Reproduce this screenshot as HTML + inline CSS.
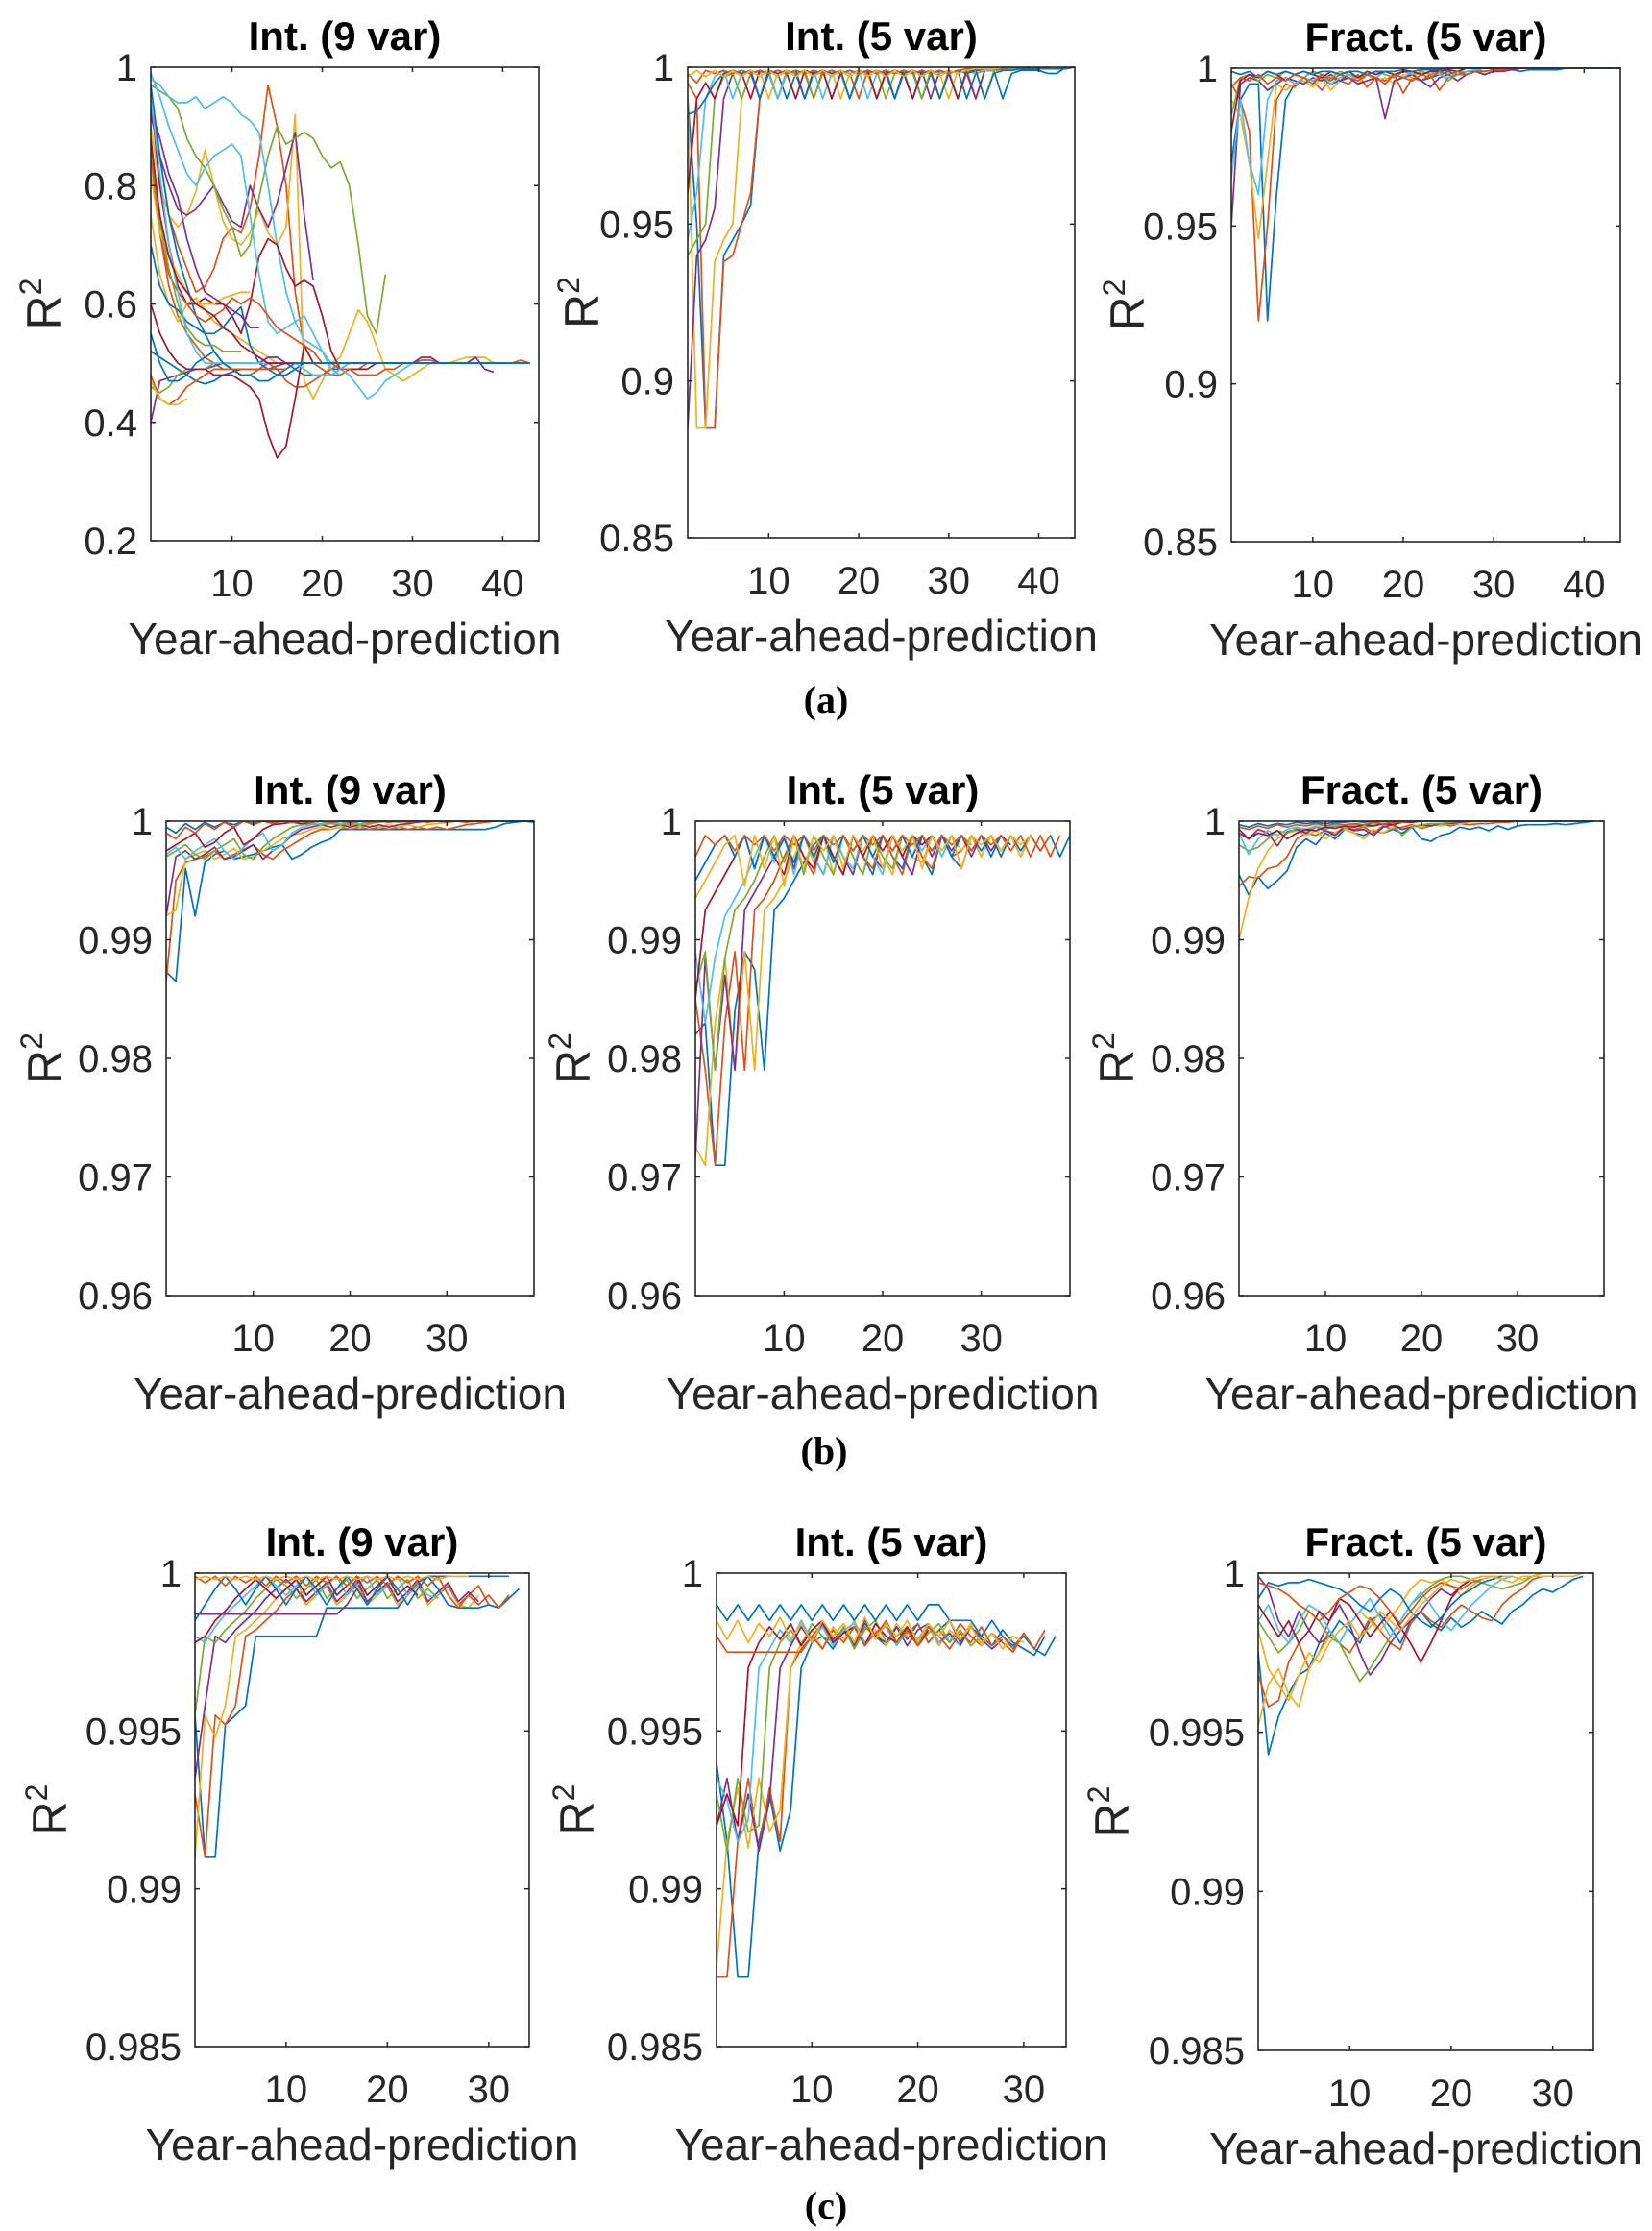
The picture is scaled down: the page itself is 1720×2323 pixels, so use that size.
<!DOCTYPE html>
<html><head><meta charset="utf-8">
<style>
html,body{margin:0;padding:0;background:#fff;}
svg{display:block;font-family:"Liberation Sans",Arial,sans-serif;}
</style></head>
<body>
<svg id="fig" width="1720" height="2323" viewBox="0 0 1720 2323">
<text x="860" y="742" text-anchor="middle" font-family="Liberation Serif,serif" font-weight="bold" font-size="40">(a)</text>
<text x="858" y="1524" text-anchor="middle" font-family="Liberation Serif,serif" font-weight="bold" font-size="40">(b)</text>
<text x="860" y="2310" text-anchor="middle" font-family="Liberation Serif,serif" font-weight="bold" font-size="40">(c)</text>
</svg>
<script>
const colors = ["#0072BD","#D95319","#EDB120","#7E2F8E","#77AC30","#4DBEEE","#A2142F"];
const titles = ["Int. (9 var)","Int. (5 var)","Fract. (5 var)","Int. (9 var)","Int. (5 var)","Fract. (5 var)","Int. (9 var)","Int. (5 var)","Fract. (5 var)"];
const yTicksA1 = [0.2,0.4,0.6,0.8,1];
const yLabelsA1 = ["0.2","0.4","0.6","0.8","1"];
const yTicksA = [0.85,0.9,0.95,1];
const yLabelsA = ["0.85","0.9","0.95","1"];
const yTicksB = [0.96,0.97,0.98,0.99,1];
const yLabelsB = ["0.96","0.97","0.98","0.99","1"];
const yTicksC = [0.985,0.99,0.995,1];
const yLabelsC = ["0.985","0.99","0.995","1"];
const xTicksA = [10,20,30,40];
const xTicksBC = [10,20,30];

const a1Series = [
[0.52,0.51,0.50,0.49,0.48,0.47,0.465,0.47,0.48,0.485,0.49,0.49,0.49,0.49,0.495,0.50,0.49,0.48,0.48,0.48,0.49,0.49,0.50,0.50,0.50,0.50,0.50,0.50,0.50,0.50,0.50,0.50,0.50,0.50,0.50,0.50,0.50,0.50,0.50,0.50,0.50,0.50,0.50],
[0.93,0.85,0.75,0.70,0.66,0.62,0.63,0.66,0.71,0.73,0.72,0.76,0.85,0.97,0.90,0.80,0.62,0.53,0.50,0.49,0.48,0.48,0.49,0.49,0.50,0.50,0.50,0.50,0.50,0.50,0.505,0.505,0.50,0.50,0.50,0.50,0.50,0.50,0.50,0.50,0.50,0.505,0.50],
[0.90,0.80,0.75,0.73,0.75,0.79,0.86,0.80,0.74,0.71,0.70,0.72,0.76,0.72,0.70,0.73,0.92,0.47,0.44,0.47,0.50,0.51,0.55,0.59,0.57,0.53,0.49,0.48,0.47,0.48,0.49,0.50,0.50,0.50,0.505,0.51,0.51,0.51,0.50,0.50,0.50,0.50,0.50],
[0.92,0.85,0.80,0.76,0.75,0.76,0.78,0.80,0.77,0.74,0.73,0.80,0.76,0.73,0.77,0.83,0.89,0.75,0.64],
[0.97,0.96,0.95,0.93,0.88,0.85,0.83,0.80,0.76,0.73,0.68,0.70,0.78,0.85,0.90,0.87,0.88,0.89,0.88,0.85,0.83,0.84,0.80,0.70,0.58,0.55,0.65],
[0.98,0.97,0.95,0.94,0.94,0.95,0.93,0.94,0.95,0.94,0.92,0.91,0.89,0.80,0.70,0.62,0.57,0.54,0.53,0.52,0.50,0.49,0.48,0.46,0.44,0.45,0.47,0.48,0.49,0.50,0.50,0.50,0.50,0.50,0.50,0.50,0.50,0.50,0.50,0.50,0.50,0.50,0.50],
[0.95,0.80,0.70,0.63,0.60,0.60,0.61,0.60,0.60,0.58,0.55,0.60,0.68,0.71,0.70,0.66,0.63,0.64,0.63,0.58,0.52,0.49,0.49,0.49,0.49,0.50,0.50,0.50,0.50,0.50],
[0.97,0.85,0.75,0.68,0.63,0.58,0.55,0.52,0.50,0.49,0.49,0.49,0.49,0.50,0.50,0.50,0.50,0.50,0.50,0.50,0.50,0.50,0.50,0.50,0.50,0.50,0.50,0.50,0.50,0.50,0.50,0.50,0.50,0.50,0.50,0.50,0.50,0.50],
[0.85,0.72,0.63,0.58,0.55,0.53,0.51,0.50,0.49,0.49,0.48,0.48,0.49,0.50,0.49,0.47,0.46,0.46,0.47,0.48,0.49,0.50],
[0.75,0.65,0.60,0.57,0.60,0.61,0.59,0.57,0.56,0.55,0.54,0.53,0.52,0.51,0.50,0.50,0.50,0.50,0.50,0.50],
[0.40,0.47,0.475,0.48,0.485,0.49,0.49,0.495,0.50,0.50,0.50,0.50,0.50,0.51,0.51,0.50,0.50,0.50,0.50,0.50,0.50,0.50,0.50,0.50,0.50,0.50,0.50,0.50,0.50,0.50,0.51,0.51,0.50,0.50,0.50,0.50,0.51,0.49,0.485],
[0.46,0.45,0.46,0.48,0.49,0.49,0.49,0.50,0.50,0.50,0.50],
[0.99,0.95,0.90,0.86,0.82,0.80,0.83,0.85,0.86,0.87,0.85,0.75,0.65,0.57,0.55,0.56,0.57,0.58,0.55,0.52,0.49,0.48],
[0.60,0.55,0.52,0.50,0.49,0.49,0.49,0.48,0.48,0.48,0.47,0.46,0.44,0.38,0.34,0.36,0.44,0.53,0.50,0.50],
[0.70,0.63,0.60,0.59,0.57,0.56,0.55,0.55,0.56,0.58,0.595,0.53,0.50,0.49,0.48,0.48,0.49,0.50,0.50,0.50],
[0.88,0.72,0.65,0.62,0.60,0.58,0.57,0.58,0.59,0.61,0.60,0.61,0.60,0.58,0.56,0.55,0.54,0.53,0.52,0.50,0.50,0.49,0.49,0.48,0.48,0.48,0.49,0.49,0.50,0.50,0.50,0.50,0.50,0.50,0.50,0.50,0.50,0.50,0.50,0.50,0.50],
[0.82,0.72,0.68,0.65,0.62,0.60,0.60,0.60,0.61,0.615,0.62,0.62],
[0.93,0.88,0.82,0.78,0.71,0.66,0.62,0.61,0.60,0.59,0.58,0.56,0.56],
[0.87,0.74,0.66,0.60,0.56,0.54,0.53,0.53,0.52,0.52,0.52],
[0.95,0.82,0.70,0.62,0.55,0.52,0.50,0.50,0.50,0.50,0.50,0.50,0.50,0.50,0.50,0.50,0.50,0.49,0.48,0.48,0.48,0.49,0.50],
[0.88,0.75,0.68,0.64,0.62,0.60,0.59,0.58,0.56,0.55,0.53,0.52,0.51,0.50,0.50,0.50,0.50,0.50,0.50,0.50,0.50,0.50,0.50,0.50,0.50,0.50,0.50,0.50,0.50,0.50,0.50,0.50,0.50,0.50,0.50,0.50,0.50,0.50,0.50,0.50,0.50,0.50,0.50],
[0.55,0.50,0.47,0.47,0.48,0.50,0.51,0.52,0.50,0.49,0.48,0.48,0.47,0.47,0.48,0.49,0.50,0.50,0.50,0.50,0.50,0.50,0.50,0.50,0.50,0.50,0.50,0.50,0.50,0.50,0.50,0.50,0.50,0.50,0.50,0.50,0.50,0.50,0.50,0.50,0.50,0.50,0.50],
[0.48,0.44,0.43,0.44,0.46,0.47,0.48,0.49,0.49,0.49,0.49,0.49,0.49,0.49,0.49,0.49],
[0.47,0.44,0.43,0.43,0.44]
];
const a2Series = [
[0.99,0.95,0.885,0.885,0.94,0.945,0.95,0.956,0.99,0.999,0.998,0.990,0.998,0.999,0.998,0.999,0.990,0.998,0.999,0.998,0.999,0.990,0.998,0.999,0.998,0.999,0.990,0.998,0.999,0.998,0.999,0.990,0.998,0.999,0.999,0.990,0.998,0.999,0.999,0.999,0.998,0.998,1.0],
[0.995,0.99,0.885,0.885,0.938,0.94,0.95,0.96,0.99,0.998,0.990,0.998,0.999,0.998,0.990,0.999,0.998,0.999,0.998,0.990,0.999,0.998,0.999,0.990,0.999,0.998,0.999,0.998,0.990,0.999,0.998,0.999,0.990,0.999,0.999,0.999,0.9995,0.9995,0.9995,0.9995,1.0],
[0.99,0.885,0.885,0.938,0.945,0.95,0.99,0.998,0.999,0.990,0.998,0.999,0.998,0.990,0.999,0.998,0.999,0.990,0.998,0.999,0.998,0.990,0.999,0.998,0.999,0.990,0.998,0.999,0.998,0.990,0.999,0.998,0.999,0.990,0.999,0.999,0.9995,0.9995,1.0],
[0.885,0.94,0.945,0.955,0.99,0.998,0.999,0.998,0.990,0.999,0.998,0.999,0.998,0.990,0.999,0.998,0.999,0.998,0.990,0.999,0.998,0.999,0.998,0.990,0.999,0.998,0.999,0.990,0.999,0.998,0.999,0.998,0.990,0.999,0.999,0.9995,0.9995,0.9995,1.0],
[0.94,0.945,0.95,0.99,0.997,0.998,0.990,0.998,0.999,0.998,0.990,0.999,0.998,0.999,0.990,0.998,0.999,0.998,0.990,0.999,0.998,0.999,0.990,0.998,0.999,0.998,0.990,0.999,0.998,0.999,0.990,0.999,0.998,0.999,0.999,0.9995,0.9995,1.0],
[0.945,0.96,0.99,0.997,0.999,0.990,0.998,0.999,0.998,0.999,0.990,0.998,0.999,0.998,0.999,0.990,0.998,0.999,0.998,0.999,0.990,0.998,0.999,0.998,0.999,0.990,0.998,0.999,0.998,0.999,0.990,0.998,0.999,0.999,0.9995,0.9995,1.0],
[0.96,0.99,0.995,0.990,0.998,0.999,0.998,0.990,0.999,0.998,0.999,0.998,0.990,0.999,0.998,0.999,0.990,0.998,0.999,0.998,0.999,0.990,0.998,0.999,0.998,0.990,0.999,0.998,0.999,0.998,0.990,0.999,0.999,0.9995,0.9995,1.0],
[0.985,0.986,0.99,0.995,0.998,0.999,0.998,0.999,0.990,0.998,0.999,0.998,0.999,0.990,0.998,0.999,0.998,0.999,0.990,0.998,0.999,0.998,0.999,0.990,0.998,0.999,0.998,0.999,0.990,0.998,0.999,0.998,0.999,0.990,0.998,0.999,0.999,0.9995,0.9995,0.9995,0.9995,0.9995,0.9995,1.0],
[0.998,0.995,0.999,0.998,0.999,0.998,0.999,0.998,0.999,0.998,0.999,0.998,0.999,0.998,0.999,0.998,0.999,0.998,0.999,0.998,0.999,0.998,0.999,0.998,0.999,0.998,0.999,0.998,0.999,0.998,0.999,0.9995,0.9995,0.9995,0.9995,0.9995,1.0],
[0.997,0.999,0.997,0.999,0.997,0.999,0.997,0.999,0.997,0.999,0.997,0.999,0.997,0.999,0.997,0.999,0.997,0.999,0.997,0.999,0.997,0.999,0.997,0.999,0.997,0.999,0.997,0.999,0.997,0.999,0.998,0.999,0.9995,0.9995,0.9995,1.0]
];
const a3Series = [
[0.97,0.99,0.995,0.995,0.92,0.96,0.99,0.995,0.997,0.996,0.997,0.995,0.996,0.998,0.997,0.998,0.997,0.996,0.998,0.997,0.998,0.996,0.997,0.998,0.999,0.998,0.999,0.999,0.998,0.999,0.999,0.9995,0.999,0.9995,0.9995,0.9995,0.9995,1.0,1.0,1.0,1.0,1.0,1.0],
[0.995,0.99,0.98,0.92,0.95,0.99,0.995,0.994,0.997,0.996,0.993,0.997,0.996,0.995,0.998,0.994,0.997,0.996,0.998,0.992,0.997,0.996,0.998,0.993,0.997,0.998,0.998,0.999,0.999,0.9995,0.9995,0.9995,1.0,1.0,1.0,1.0,1.0,1.0],
[0.99,0.985,0.97,0.946,0.97,0.995,0.993,0.995,0.996,0.994,0.997,0.993,0.996,0.997,0.995,0.998,0.996,0.997,0.995,0.998,0.997,0.999,0.998,0.999,0.9995,0.999,1.0,1.0,1.0,1.0,1.0,1.0,1.0,1.0,1.0,1.0,1.0,1.0,1.0,1.0,1.0],
[0.95,0.995,0.997,0.996,0.993,0.995,0.997,0.996,0.995,0.997,0.996,0.998,0.996,0.997,0.995,0.996,0.997,0.984,0.996,0.997,0.998,0.996,0.994,0.997,0.998,0.996,0.998,0.999,0.998,0.999,0.999,0.9995,1.0,1.0,1.0,1.0,1.0,1.0,1.0],
[0.985,0.997,0.998,0.996,0.998,0.997,0.999,0.998,0.997,0.999,0.998,0.997,0.999,0.998,0.997,0.998,0.999,0.998,0.997,0.999,0.998,0.999,0.998,0.999,0.996,0.998,0.999,0.9995,0.999,0.9995,1.0,1.0,1.0,1.0,1.0,1.0,1.0,1.0],
[0.965,0.99,0.97,0.96,0.99,0.996,0.997,0.995,0.997,0.996,0.998,0.995,0.997,0.998,0.996,0.998,0.997,0.999,0.998,0.997,0.999,0.998,0.999,0.998,0.997,0.999,0.999,0.9995,1.0,1.0,1.0,1.0,1.0,1.0,1.0,1.0,1.0],
[0.98,0.996,0.998,0.997,0.999,0.998,0.996,0.998,0.999,0.998,0.997,0.999,0.998,0.999,0.997,0.999,0.998,0.999,0.998,0.999,0.999,0.998,0.999,0.999,0.9995,0.999,1.0,1.0,1.0,1.0,1.0,1.0,1.0,1.0,1.0,1.0,1.0],
[0.999,0.998,0.999,0.997,0.999,0.998,0.999,0.998,0.999,0.998,0.999,0.999,0.998,0.999,0.999,0.998,0.999,0.999,0.999,0.9995,0.999,0.9995,0.9995,0.9995,1.0,1.0,1.0,1.0,1.0,1.0,1.0,1.0,1.0,1.0,1.0,1.0,1.0,1.0,1.0,1.0,1.0,1.0,1.0,1.0],
[0.994,0.997,0.996,0.998,0.995,0.997,0.996,0.998,0.997,0.995,0.998,0.996,0.998,0.997,0.996,0.998,0.997,0.995,0.998,0.997,0.996,0.998,0.997,0.999,0.998,0.999,0.998,0.999,0.999,0.9995,1.0,1.0,1.0,1.0,1.0,1.0,1.0,1.0,1.0,1.0]
];
const b1Series = [
[0.9873,0.9865,0.996,0.992,0.9965,0.9972,0.9975,0.9968,0.997,0.9972,0.9975,0.9978,0.998,0.9968,0.9972,0.9978,0.9982,0.9985,0.9993,0.9993,0.9993,0.9993,0.9993,0.9993,0.9993,0.9993,0.9993,0.9993,0.9993,0.9993,0.9993,0.9993,0.9993,0.9993,0.9995,0.9998,0.9999,1.0,0.9999],
[0.9865,0.995,0.9965,0.9968,0.997,0.9975,0.9968,0.9972,0.9976,0.998,0.9972,0.9968,0.9975,0.998,0.9985,0.999,0.9993,0.9993,0.9995,0.9993,0.9995,0.9993,0.9995,0.9993,0.9995,0.9993,0.9995,0.9993,0.9995,0.9993,0.9995,0.9997,0.9998,0.9999,1.0],
[0.992,0.9925,0.9968,0.9972,0.9975,0.9968,0.9972,0.9977,0.9968,0.997,0.9975,0.998,0.9985,0.9988,0.999,0.9993,0.9995,0.9993,0.9995,0.9997,0.9995,0.9997,0.9995,0.9997,0.9995,0.9997,0.9995,0.9997,0.9998,0.9999,1.0],
[0.992,0.997,0.9975,0.9968,0.9972,0.9978,0.9968,0.997,0.9975,0.998,0.9968,0.9975,0.998,0.9988,0.9993,0.9995,0.9997,0.9995,0.9997,0.9995,0.9997,0.9995,0.9997,0.9995,0.9997,0.9998,0.9999,1.0],
[0.997,0.9975,0.998,0.9972,0.9968,0.9975,0.998,0.9985,0.9972,0.9968,0.9978,0.9985,0.999,0.9995,0.9997,0.9998,0.9997,0.9998,0.9997,0.9998,0.9997,0.9998,0.9999,1.0,0.9999,1.0],
[0.9972,0.9978,0.9968,0.9975,0.998,0.9985,0.9975,0.9968,0.9978,0.9985,0.999,0.9975,0.998,0.999,0.9995,0.9997,0.9998,0.9999,0.9998,0.9999,0.9998,0.9999,1.0,0.9999,1.0],
[0.9975,0.998,0.9985,0.999,0.9978,0.9982,0.999,0.9995,0.998,0.9985,0.9993,0.9997,0.9998,0.9999,0.9998,0.9999,1.0,0.9999,1.0,0.9999,1.0],
[0.9995,0.999,0.9998,0.9993,0.9999,0.9995,0.9999,0.9997,1.0,0.9998,1.0,0.9999,1.0,0.9999,1.0,0.9999,1.0,0.9999,1.0,1.0,1.0,1.0,1.0,1.0,1.0,1.0,1.0,1.0,1.0,1.0,1.0,1.0,1.0,1.0,1.0,1.0,1.0,1.0,1.0],
[0.999,0.9985,0.9995,0.999,0.9998,0.9993,0.9999,0.9995,1.0,0.9997,1.0,0.9998,1.0,0.9999,1.0,0.9999,1.0,0.9999,1.0,0.9999,1.0,0.9999,1.0,0.9999,1.0,0.9999,1.0,0.9999,1.0,0.9999,1.0,0.9999,1.0,1.0]
];
const b2Series = [
[0.982,0.983,0.971,0.971,0.984,0.989,0.9875,0.979,0.9925,0.9935,0.995,0.9965,0.998,0.9988,0.997,0.9955,0.9988,0.997,0.9955,0.9988,0.997,0.996,0.9988,0.997,0.9955,0.9988,0.997,0.996,0.9988,0.9975,0.9988,0.997,0.9988,0.9975,0.9988,0.9975,0.9988,0.997,0.9988],
[0.985,0.979,0.971,0.983,0.989,0.979,0.9925,0.9935,0.995,0.997,0.9988,0.997,0.9955,0.9988,0.997,0.9955,0.9988,0.997,0.996,0.9988,0.997,0.9955,0.9988,0.997,0.996,0.9988,0.997,0.9975,0.9988,0.997,0.9988,0.9975,0.9988,0.997,0.9988,0.9975,0.9988],
[0.9725,0.971,0.983,0.9885,0.979,0.989,0.979,0.9925,0.9935,0.995,0.997,0.9988,0.9965,0.9988,0.9955,0.9988,0.997,0.9955,0.9988,0.997,0.9955,0.9988,0.997,0.9965,0.9988,0.997,0.9988,0.9975,0.9988,0.997,0.9988,0.9975,0.9988,0.997,0.9988],
[0.9715,0.9885,0.979,0.987,0.979,0.9925,0.994,0.9955,0.997,0.9988,0.996,0.9988,0.997,0.9955,0.9988,0.997,0.9955,0.9988,0.997,0.996,0.9988,0.997,0.9955,0.9988,0.997,0.9988,0.9975,0.9988,0.997,0.9988,0.9975,0.9988,0.998],
[0.986,0.989,0.979,0.9885,0.9925,0.9935,0.995,0.997,0.9988,0.9965,0.9988,0.9955,0.9988,0.997,0.9955,0.9988,0.997,0.9955,0.9988,0.997,0.996,0.9988,0.997,0.9988,0.9975,0.9988,0.997,0.9988,0.998],
[0.989,0.983,0.9885,0.992,0.9935,0.995,0.997,0.9988,0.9965,0.9988,0.9955,0.9988,0.997,0.9955,0.9988,0.997,0.996,0.9988,0.997,0.9955,0.9988,0.997,0.9988,0.9975,0.9988,0.997,0.9988],
[0.985,0.9925,0.994,0.9955,0.997,0.9988,0.996,0.9988,0.997,0.9955,0.9988,0.997,0.996,0.9988,0.997,0.9955,0.9988,0.997,0.9988,0.9975,0.9988,0.997,0.9988,0.998,0.9988],
[0.995,0.9965,0.998,0.9988,0.997,0.9988,0.996,0.9988,0.997,0.9985,0.9965,0.9988,0.997,0.9988,0.9965,0.9988,0.9975,0.9988,0.997,0.9988,0.9975,0.9988,0.997,0.9988,0.9975,0.9988,0.997,0.9988,0.9975,0.9988,0.997,0.9988],
[0.997,0.9988,0.998,0.9988,0.9975,0.9988,0.998,0.9988,0.9975,0.9988,0.998,0.9988,0.9975,0.9988,0.998,0.9988,0.9975,0.9988,0.998,0.9988,0.9975,0.9988,0.998,0.9988,0.9975,0.9988,0.998,0.9988,0.9975,0.9988,0.998,0.9988,0.9975,0.9988,0.997,0.9988,0.997,0.9988],
[0.9935,0.995,0.9965,0.998,0.9988,0.9945,0.9988,0.996,0.9988,0.9945,0.9988,0.996,0.9988,0.9975,0.9988,0.996,0.9988,0.9975,0.9988,0.996,0.9988,0.9975,0.9988,0.996,0.9988,0.9975,0.9988,0.996,0.9988,0.998,0.9988,0.9975,0.9988,0.998,0.9988]
];
const b3Series = [
[0.9955,0.9938,0.9953,0.9943,0.995,0.9958,0.9978,0.9985,0.998,0.999,0.9985,0.9993,0.999,0.9988,0.9992,0.999,0.9993,0.999,0.9995,0.9985,0.9983,0.9988,0.999,0.9995,0.9993,0.9995,0.9992,0.9996,0.9993,0.9996,0.9997,0.9997,0.9997,0.9998,0.9997,0.9998,0.9999,1.0],
[0.9945,0.9953,0.9952,0.996,0.9962,0.997,0.9985,0.999,0.9988,0.9992,0.999,0.9995,0.9993,0.9995,0.999,0.9996,0.9993,0.9995,0.9997,0.9994,0.9996,0.9998,0.9996,0.9998,0.9997,0.9998,0.9998,0.9999,0.9999,1.0],
[0.990,0.9935,0.996,0.9975,0.9985,0.999,0.9992,0.9988,0.9992,0.9985,0.999,0.9993,0.999,0.9985,0.9993,0.999,0.9995,0.9993,0.9996,0.9995,0.9997,0.9996,0.9998,0.9998,0.9999,1.0],
[0.999,0.9985,0.9993,0.999,0.9979,0.9991,0.9993,0.999,0.9995,0.9992,0.9988,0.9995,0.9992,0.9993,0.9988,0.9995,0.9997,0.9993,0.9995,0.9997,0.9996,0.9998,0.9998,0.9999,1.0],
[0.998,0.9975,0.9978,0.9985,0.9992,0.999,0.9994,0.9992,0.9995,0.9993,0.9996,0.9994,0.9997,0.9995,0.9996,0.9998,0.9997,0.9988,0.9995,0.9997,0.9998,0.9998,0.9999,1.0],
[0.999,0.9972,0.9985,0.9992,0.9988,0.9993,0.9995,0.9993,0.9996,0.9994,0.9997,0.9995,0.9996,0.9997,0.9998,0.9997,0.9998,0.9999,0.9999,1.0],
[0.9993,0.9985,0.999,0.9988,0.9992,0.9985,0.999,0.9993,0.9992,0.9995,0.9994,0.9996,0.9995,0.9997,0.9996,0.9998,0.9997,0.9999,0.9999,1.0],
[0.9997,0.9995,0.9998,0.9996,0.9998,0.9997,0.9999,0.9998,0.9999,0.9998,0.9999,0.9999,1.0,0.9999,1.0,1.0,1.0,1.0,1.0,1.0,1.0,1.0,1.0,1.0,1.0,1.0,1.0,1.0,1.0,1.0,1.0,1.0,1.0,1.0,1.0,1.0,1.0,1.0],
[0.9995,0.9993,0.9996,0.9994,0.9997,0.9995,0.9997,0.9996,0.9998,0.9996,0.9998,0.9997,0.9998,0.9997,0.9999,0.9998,0.9999,0.9999,1.0]
];
const c1Series = [
[0.9955,0.991,0.991,0.9952,0.9955,0.9958,0.998,0.998,0.998,0.998,0.998,0.998,0.998,0.9989,0.9989,0.9989,0.9989,0.9989,0.9989,0.9989,0.9989,0.9993,0.9997,0.9999,0.9999,0.9999,0.9999,0.9999,0.9999,0.9999,0.9999,0.9999],
[0.993,0.991,0.9955,0.9952,0.9958,0.998,0.9982,0.9985,0.9988,0.9992,0.9995,0.999,0.9993,0.9996,0.999,0.9993,0.9997,0.999,0.9993,0.9996,0.999,0.9993,0.9997,0.999,0.9993,0.9996,0.999,0.9993,0.9996,0.999,0.9989,0.9993],
[0.991,0.9955,0.9948,0.9958,0.998,0.9982,0.9985,0.9988,0.9992,0.9995,0.9998,0.999,0.9993,0.9997,0.999,0.9993,0.9996,0.999,0.9993,0.9997,0.999,0.9993,0.9996,0.999,0.9993,0.9997,0.999,0.9989,0.9993],
[0.9935,0.9958,0.998,0.9978,0.9982,0.9985,0.9988,0.9992,0.9995,0.9998,0.9995,0.9991,0.9994,0.9997,0.9991,0.9994,0.9998,0.9991,0.9994,0.9997,0.9991,0.9994,0.9998,0.9991,0.9994,0.9997,0.9991,0.9994,0.9991],
[0.9955,0.998,0.9978,0.9982,0.9985,0.9988,0.9992,0.9995,0.9998,0.9996,0.9992,0.9995,0.9998,0.9992,0.9995,0.9998,0.9992,0.9995,0.9998,0.9992,0.9995,0.9998,0.9992,0.9995,0.9992],
[0.998,0.9978,0.9983,0.9987,0.999,0.9993,0.9996,0.9999,0.9996,0.9993,0.9996,0.9999,0.9993,0.9996,0.9999,0.9993,0.9996,0.9999,0.9993,0.9996,0.9999,0.9993,0.9996,0.9993,0.9992],
[0.9978,0.998,0.9985,0.9988,0.9992,0.9995,0.9998,0.9995,0.9992,0.9995,0.9998,0.9993,0.9996,0.9999,0.9993,0.9996,0.9999,0.9993,0.9996,0.9999,0.9993,0.9996,0.9993],
[0.9985,0.999,0.9995,0.9999,0.9995,0.999,0.9995,0.9999,0.9995,0.999,0.9995,0.9999,0.9995,0.999,0.9995,0.9999,0.9995,0.999,0.9995,0.9999,0.9995,0.999,0.9995,0.9999,0.9995,0.999,0.9989,0.9989,0.9989,0.999,0.9989,0.9992,0.9995],
[0.9999,0.9997,0.9999,0.9996,0.9999,0.9997,0.9999,0.9996,0.9999,0.9997,0.9999,0.9996,0.9999,0.9997,0.9999,0.9996,0.9999,0.9997,0.9999,0.9996,0.9999,0.9997,0.9999,0.9996,0.9999,0.9993,0.9989,0.9993,0.999,0.9993,0.9989,0.9993],
[0.9998,0.9999,0.9998,0.9999,0.9998,0.9999,0.9998,0.9999,0.9998,0.9999,0.9998,0.9999,0.9998,0.9999,0.9998,0.9999,0.9998,0.9999,0.9998,0.9999,0.9998,0.9999,0.9998,0.9999,0.9998,0.9999,0.9999,0.9999],
[0.9987,0.9987,0.9987,0.9987,0.9987,0.9987,0.9987,0.9987,0.9987,0.9987,0.9987,0.9987,0.9987,0.9987,0.9987,0.999,0.9995]
];
const c2Series = [
[0.994,0.9915,0.9872,0.9872,0.9915,0.993,0.9912,0.9925,0.997,0.9978,0.998,0.9976,0.9982,0.9978,0.9984,0.998,0.9977,0.9983,0.9979,0.9984,0.9978,0.9982,0.9985,0.9978,0.9983,0.998,0.9977,0.9982,0.9978,0.9976,0.9974,0.998],
[0.9872,0.9872,0.9915,0.9935,0.9912,0.9932,0.9915,0.997,0.9976,0.998,0.9984,0.9978,0.9982,0.9977,0.9983,0.998,0.9985,0.9978,0.9981,0.9984,0.9978,0.9982,0.9978,0.9984,0.998,0.9977,0.9981,0.9978,0.9975,0.9981],
[0.9875,0.9915,0.9932,0.9913,0.9935,0.9918,0.9925,0.997,0.9978,0.9982,0.9976,0.9983,0.9979,0.9985,0.9978,0.9982,0.9977,0.9984,0.998,0.9978,0.9983,0.9977,0.9982,0.9979,0.9984,0.9977,0.9981,0.9976,0.998],
[0.992,0.9935,0.9915,0.993,0.9912,0.9928,0.997,0.9977,0.9983,0.9978,0.9984,0.9979,0.9982,0.9977,0.9985,0.998,0.9978,0.9983,0.9977,0.9982,0.9984,0.9978,0.9981,0.9977,0.9983,0.9979,0.9976,0.9979],
[0.993,0.9912,0.9935,0.9918,0.992,0.997,0.9978,0.9982,0.9977,0.9984,0.998,0.9978,0.9983,0.9976,0.9982,0.9985,0.9978,0.998,0.9983,0.9977,0.9981,0.9984,0.9978,0.9982,0.9977,0.998],
[0.9935,0.9928,0.9915,0.9922,0.997,0.9976,0.9982,0.9978,0.9985,0.9979,0.9983,0.9977,0.9982,0.9984,0.9978,0.9981,0.9983,0.9977,0.9982,0.9979,0.9984,0.9978,0.998,0.9977],
[0.992,0.993,0.992,0.997,0.9978,0.9983,0.9979,0.9984,0.9977,0.9982,0.9985,0.9978,0.9981,0.9983,0.9977,0.9984,0.998,0.9978,0.9983,0.9977,0.9982],
[0.999,0.9985,0.999,0.9985,0.999,0.9985,0.999,0.9985,0.999,0.9985,0.999,0.9985,0.999,0.9985,0.999,0.9985,0.999,0.9985,0.999,0.9985,0.999,0.999,0.9985,0.9985,0.9985,0.998,0.9985,0.998,0.9977,0.998,0.9976,0.9974,0.998],
[0.998,0.9975,0.9975,0.9975,0.9975,0.9975,0.9975,0.9975,0.9975,0.998,0.9976,0.9982,0.9978,0.9983,0.9977,0.9981,0.9984,0.9978,0.9982,0.9977,0.9983,0.998,0.9976,0.9981,0.9978,0.9983,0.9977,0.998,0.9976,0.9981,0.9976,0.9982],
[0.9985,0.9979,0.9985,0.9978,0.9984,0.998,0.9986,0.9979,0.9984,0.9978,0.9985,0.998,0.9984,0.9978,0.9986,0.9979,0.9984,0.998,0.9985,0.9978,0.9984,0.998,0.9985,0.9979,0.9983,0.9978,0.9981,0.9976,0.998,0.9978]
];
const c3Series = [
[0.9975,0.9943,0.9955,0.9962,0.9968,0.997,0.9978,0.998,0.9985,0.9982,0.9978,0.9985,0.9987,0.9983,0.9978,0.9985,0.9988,0.9984,0.9982,0.9986,0.9983,0.9985,0.9988,0.9986,0.9984,0.9988,0.999,0.9993,0.9995,0.9994,0.9996,0.9998,0.9999],
[0.9968,0.9958,0.996,0.9972,0.9978,0.997,0.9975,0.9982,0.9978,0.9975,0.998,0.9986,0.9982,0.9978,0.9976,0.9984,0.9988,0.9985,0.9983,0.9987,0.999,0.9988,0.9986,0.9985,0.999,0.9993,0.9995,0.9998,0.9999],
[0.9952,0.9965,0.997,0.9962,0.9958,0.997,0.9975,0.998,0.9978,0.9984,0.9988,0.9985,0.9982,0.9986,0.999,0.9995,0.9998,0.9997,0.9998,0.9996,0.9993,0.9996,0.9998,0.9999,0.9999,0.9999,0.9998,0.9999,0.9999,0.9999,0.9999,0.9999,1.0],
[0.9999,0.9995,0.9985,0.998,0.9988,0.9982,0.9978,0.9985,0.999,0.9984,0.9975,0.9968,0.9972,0.9978,0.9982,0.9985,0.9988,0.9992,0.9995,0.9993,0.9996,0.9998,0.9999],
[0.9985,0.998,0.9975,0.9978,0.9982,0.9988,0.9985,0.998,0.9978,0.9972,0.9966,0.997,0.9975,0.998,0.9985,0.999,0.9993,0.9996,0.9998,0.9999,0.9999,0.9998,0.9997,0.9996,0.9995,0.9996,0.9997,0.9999,1.0],
[0.9985,0.999,0.9982,0.9978,0.9985,0.999,0.9988,0.9982,0.9978,0.9984,0.9988,0.9992,0.9986,0.998,0.9985,0.999,0.9994,0.999,0.9985,0.9982,0.9986,0.999,0.9993,0.9996,0.9998,0.9999],
[0.999,0.9985,0.998,0.9985,0.9978,0.9982,0.9988,0.9985,0.9992,0.999,0.9985,0.998,0.9984,0.9988,0.9983,0.9978,0.9972,0.9978,0.9985,0.9992,0.9996,0.9998],
[0.9992,0.9997,0.9996,0.9997,0.9997,0.9998,0.9997,0.9996,0.9995,0.9993,0.999,0.9988,0.9992,0.9995,0.9993,0.9988,0.9985,0.9983,0.9986,0.999,0.9993,0.9995,0.9997,0.9998,0.9999],
[0.9997,0.9996,0.9995,0.9993,0.999,0.9988,0.9985,0.9988,0.9992,0.9994,0.9996,0.9995,0.9992,0.9988,0.9984,0.9988,0.9992,0.9995,0.9997,0.9996,0.9995,0.9997,0.9998],
[0.9982,0.997,0.9965,0.996,0.9968,0.9975,0.9972,0.9978,0.9982,0.9985,0.998,0.9983,0.9988,0.9985,0.9982,0.9986,0.999,0.9993,0.9996,0.9998,0.9997,0.9998,0.9999,0.9999,0.9998,0.9997,0.9999,0.9999,1.0]
];

const layout = [
 {id:"a1",L:157,R:561,T:70,B:563,xl:[1,44],yl:[0.2,1],yt:yTicksA1,ylab:yLabelsA1,xt:xTicksA,s:a1Series,yx:46},
 {id:"a2",L:716,R:1119,T:70,B:560,xl:[1,44],yl:[0.85,1],yt:yTicksA,ylab:yLabelsA,xt:xTicksA,s:a2Series,yx:606},
 {id:"a3",L:1282,R:1687,T:71,B:564,xl:[1,44],yl:[0.85,1],yt:yTicksA,ylab:yLabelsA,xt:xTicksA,s:a3Series,yx:1174},
 {id:"b1",L:173,R:556,T:855,B:1349,xl:[1,39],yl:[0.96,1],yt:yTicksB,ylab:yLabelsB,xt:xTicksBC,s:b1Series,yx:47},
 {id:"b2",L:724,R:1114,T:855,B:1349,xl:[1,39],yl:[0.96,1],yt:yTicksB,ylab:yLabelsB,xt:xTicksBC,s:b2Series,yx:597},
 {id:"b3",L:1290,R:1670,T:855,B:1349,xl:[1,39],yl:[0.96,1],yt:yTicksB,ylab:yLabelsB,xt:xTicksBC,s:b3Series,yx:1163},
 {id:"c1",L:203,R:551,T:1638,B:2131,xl:[1,34],yl:[0.985,1],yt:yTicksC,ylab:yLabelsC,xt:xTicksBC,s:c1Series,yx:52},
 {id:"c2",L:746,R:1110,T:1638,B:2131,xl:[1,34],yl:[0.985,1],yt:yTicksC,ylab:yLabelsC,xt:xTicksBC,s:c2Series,yx:601},
 {id:"c3",L:1310,R:1659,T:1638,B:2135,xl:[1,34],yl:[0.985,1],yt:yTicksC,ylab:yLabelsC,xt:xTicksBC,s:c3Series,yx:1158}
];

const NS = "http://www.w3.org/2000/svg";
const svg = document.getElementById("fig");
function mk(tag, attrs, parent){
  const e = document.createElementNS(NS, tag);
  for (const k in attrs) e.setAttribute(k, attrs[k]);
  (parent||svg).appendChild(e);
  return e;
}
layout.forEach((p, pi) => {
  const g = mk("g", {});
  
  
  const sx = v => p.L + (v - p.xl[0]) / (p.xl[1] - p.xl[0]) * (p.R - p.L);
  const sy = v => p.B - (v - p.yl[0]) / (p.yl[1] - p.yl[0]) * (p.B - p.T);
  const clipId = "clip-" + p.id;
  const cp = mk("clipPath", {id: clipId}, g);
  mk("rect", {x:p.L, y:p.T-2, width:p.R-p.L, height:p.B-p.T+4}, cp);
  const lg = mk("g", {"clip-path": "url(#" + clipId + ")"}, g);
  
  
  p.s.forEach((vals, si) => {
    const pts = vals.map((v, i) => sx(i + 1).toFixed(1) + "," + sy(v).toFixed(1)).join(" ");
    const pl = mk("polyline", {points: pts, fill: "none", stroke: colors[si % colors.length], "stroke-width": 1.7, "stroke-linejoin": "round"}, lg);
    
    
  });
  const box = mk("rect", {x:p.L, y:p.T, width:p.R-p.L, height:p.B-p.T, fill:"none", stroke:"#262626", "stroke-width":1.6}, g);
  
  
  p.yt.forEach((t, ti) => {
    const y = sy(t);
    mk("line", {x1:p.L, x2:p.L+5, y1:y, y2:y, stroke:"#262626", "stroke-width":1.5}, g);
    mk("line", {x1:p.R-5, x2:p.R, y1:y, y2:y, stroke:"#262626", "stroke-width":1.5}, g);
    const tx = mk("text", {x:p.L-14, y:y+14, "text-anchor":"end", "font-size":40, fill:"#262626"}, g);
    tx.textContent = p.ylab[ti];
    
    
  });
  p.xt.forEach(t => {
    const x = sx(t);
    mk("line", {x1:x, x2:x, y1:p.B, y2:p.B-5, stroke:"#262626", "stroke-width":1.5}, g);
    mk("line", {x1:x, x2:x, y1:p.T, y2:p.T+5, stroke:"#262626", "stroke-width":1.5}, g);
    const tx = mk("text", {x:x, y:p.B+58, "text-anchor":"middle", "font-size":40, fill:"#262626"}, g);
    tx.textContent = String(t);
    
    
  });
  const cx = (p.L + p.R) / 2;
  const ti = mk("text", {x:cx, y:p.T-18, "text-anchor":"middle", "font-size":42, "font-weight":"bold", fill:"#000"}, g);
  ti.textContent = titles[pi];
  
  
  const xl = mk("text", {x:cx, y:p.B+118, "text-anchor":"middle", "font-size":46, fill:"#262626"}, g);
  xl.textContent = "Year-ahead-prediction";
  
  
  const cy = (p.T + p.B) / 2;
  const yl = mk("text", {x:p.yx + 17, y:cy, "text-anchor":"middle", "font-size":50, fill:"#262626", transform:"rotate(-90 " + (p.yx + 17) + " " + cy + ")"}, g);
  
  
  const t1 = document.createElementNS(NS, "tspan"); t1.textContent = "R"; yl.appendChild(t1);
  const t2 = document.createElementNS(NS, "tspan"); t2.setAttribute("dy", "-20"); t2.setAttribute("font-size", "32"); t2.textContent = "2"; yl.appendChild(t2);
});
</script>
</body></html>
